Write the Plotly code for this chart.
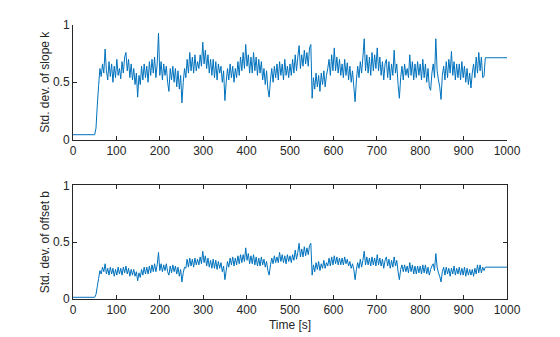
import numpy as np
import plotly.graph_objects as go

# Sample times: flat start, noisy estimate every 3 s from 50 s to 947 s, flat tail
time_noisy = list(np.arange(50, 950, 3))
time_s = [0] + time_noisy + [950, 1000]

# Std. dev. of slope k
slope_start = 0.042
slope_noisy = [
    0.042, 0.10, 0.30, 0.47, 0.62, 0.55, 0.66, 0.58, 0.79, 0.60,
    0.52, 0.68, 0.55, 0.66, 0.50, 0.64, 0.54, 0.70, 0.56, 0.62,
    0.53, 0.68, 0.58, 0.72, 0.76, 0.60, 0.70, 0.54, 0.66, 0.52,
    0.62, 0.48, 0.58, 0.37, 0.56, 0.48, 0.64, 0.52, 0.66, 0.54,
    0.64, 0.50, 0.68, 0.56, 0.70, 0.58, 0.72, 0.54, 0.66, 0.93,
    0.56, 0.68, 0.52, 0.66, 0.56, 0.64, 0.50, 0.42, 0.62, 0.52,
    0.64, 0.50, 0.62, 0.46, 0.60, 0.44, 0.56, 0.32, 0.50, 0.62,
    0.54, 0.70, 0.58, 0.76, 0.60, 0.72, 0.58, 0.74, 0.60, 0.68,
    0.62, 0.74, 0.64, 0.85, 0.66, 0.78, 0.62, 0.74, 0.58, 0.70,
    0.56, 0.70, 0.54, 0.68, 0.52, 0.66, 0.58, 0.64, 0.50, 0.60,
    0.34, 0.50, 0.62, 0.52, 0.66, 0.54, 0.64, 0.50, 0.62, 0.54,
    0.68, 0.56, 0.72, 0.60, 0.76, 0.62, 0.83, 0.64, 0.74, 0.58,
    0.72, 0.58, 0.76, 0.60, 0.72, 0.56, 0.70, 0.58, 0.68, 0.52,
    0.62, 0.48, 0.60, 0.44, 0.37, 0.52, 0.62, 0.50, 0.64, 0.54,
    0.66, 0.52, 0.68, 0.56, 0.66, 0.52, 0.70, 0.56, 0.64, 0.54,
    0.66, 0.56, 0.70, 0.58, 0.74, 0.60, 0.72, 0.82, 0.62, 0.74,
    0.64, 0.78, 0.66, 0.76, 0.64, 0.80, 0.83, 0.36, 0.54, 0.44,
    0.58, 0.46, 0.56, 0.42, 0.58, 0.48, 0.60, 0.46, 0.56, 0.62,
    0.70, 0.56, 0.74, 0.60, 0.80, 0.60, 0.72, 0.58, 0.70, 0.56,
    0.66, 0.54, 0.70, 0.56, 0.67, 0.52, 0.64, 0.50, 0.60, 0.46,
    0.33, 0.52, 0.64, 0.54, 0.68, 0.58, 0.72, 0.88, 0.60, 0.74,
    0.58, 0.72, 0.56, 0.76, 0.60, 0.74, 0.62, 0.80, 0.60, 0.72,
    0.56, 0.68, 0.52, 0.66, 0.70, 0.54, 0.68, 0.52, 0.66, 0.56,
    0.78, 0.58, 0.66, 0.48, 0.36, 0.54, 0.64, 0.52, 0.66, 0.56,
    0.62, 0.54, 0.74, 0.56, 0.68, 0.52, 0.66, 0.54, 0.68, 0.56,
    0.66, 0.52, 0.70, 0.54, 0.66, 0.50, 0.62, 0.46, 0.43, 0.58,
    0.66, 0.54, 0.88, 0.60, 0.52, 0.46, 0.35, 0.56, 0.64, 0.52,
    0.68, 0.54, 0.70, 0.58, 0.77, 0.56, 0.68, 0.52, 0.66, 0.54,
    0.66, 0.52, 0.68, 0.54, 0.64, 0.50, 0.62, 0.48, 0.58, 0.45,
    0.58, 0.66, 0.54, 0.72, 0.58, 0.76, 0.60, 0.72, 0.54, 0.55,
]
slope_end = 0.714

# Std. dev. of offset b
offset_start = 0.015
offset_noisy = [
    0.015, 0.04, 0.11, 0.18, 0.25, 0.22, 0.28, 0.24, 0.31, 0.22,
    0.27, 0.21, 0.28, 0.22, 0.27, 0.20, 0.26, 0.21, 0.28, 0.22,
    0.27, 0.21, 0.28, 0.23, 0.29, 0.22, 0.27, 0.20, 0.26, 0.21,
    0.26, 0.20, 0.24, 0.16, 0.23, 0.19, 0.26, 0.21, 0.28, 0.22,
    0.28, 0.22, 0.29, 0.23, 0.30, 0.24, 0.31, 0.24, 0.30, 0.41,
    0.25, 0.31, 0.24, 0.30, 0.25, 0.31, 0.24, 0.21, 0.29, 0.23,
    0.30, 0.24, 0.29, 0.22, 0.28, 0.20, 0.26, 0.15, 0.23, 0.28,
    0.27, 0.35, 0.28, 0.36, 0.29, 0.35, 0.28, 0.36, 0.30, 0.35,
    0.30, 0.37, 0.31, 0.42, 0.32, 0.38, 0.29, 0.36, 0.28, 0.34,
    0.27, 0.35, 0.27, 0.34, 0.26, 0.33, 0.27, 0.32, 0.24, 0.29,
    0.17, 0.25, 0.33, 0.28, 0.36, 0.30, 0.37, 0.29, 0.36, 0.30,
    0.38, 0.31, 0.39, 0.32, 0.39, 0.33, 0.45, 0.34, 0.40, 0.31,
    0.38, 0.31, 0.39, 0.30, 0.37, 0.29, 0.36, 0.29, 0.37, 0.30,
    0.35, 0.28, 0.33, 0.25, 0.21, 0.30, 0.36, 0.31, 0.38, 0.32,
    0.37, 0.32, 0.41, 0.33, 0.39, 0.32, 0.38, 0.31, 0.39, 0.33,
    0.38, 0.32, 0.39, 0.34, 0.43, 0.35, 0.41, 0.49, 0.37, 0.44,
    0.37, 0.46, 0.38, 0.45, 0.39, 0.47, 0.49, 0.21, 0.30, 0.24,
    0.32, 0.26, 0.33, 0.25, 0.31, 0.27, 0.34, 0.27, 0.32, 0.29,
    0.36, 0.29, 0.37, 0.30, 0.38, 0.31, 0.37, 0.30, 0.36, 0.30,
    0.36, 0.30, 0.37, 0.31, 0.35, 0.29, 0.33, 0.27, 0.31, 0.26,
    0.17, 0.26, 0.32, 0.27, 0.35, 0.28, 0.34, 0.42, 0.30, 0.37,
    0.30, 0.36, 0.29, 0.37, 0.30, 0.36, 0.29, 0.39, 0.30, 0.36,
    0.29, 0.35, 0.27, 0.34, 0.37, 0.29, 0.35, 0.27, 0.34, 0.28,
    0.37, 0.29, 0.34, 0.24, 0.17, 0.26, 0.30, 0.24, 0.30, 0.24,
    0.29, 0.23, 0.32, 0.24, 0.30, 0.22, 0.29, 0.22, 0.29, 0.23,
    0.29, 0.22, 0.30, 0.23, 0.30, 0.22, 0.28, 0.21, 0.26, 0.29,
    0.31, 0.25, 0.40, 0.28, 0.23, 0.20, 0.15, 0.24, 0.28, 0.21,
    0.28, 0.22, 0.27, 0.20, 0.27, 0.22, 0.29, 0.21, 0.27, 0.22,
    0.28, 0.21, 0.27, 0.21, 0.28, 0.20, 0.27, 0.21, 0.26, 0.21,
    0.26, 0.20, 0.27, 0.22, 0.30, 0.23, 0.30, 0.23, 0.28, 0.25,
]
offset_end = 0.28

x_ticks = [0, 100, 200, 300, 400, 500, 600, 700, 800, 900, 1000]
y_ticks = [0, 0.5, 1]
y_tick_text = ["0", "0.5", "1"]

slope_k = [slope_start] + slope_noisy + [slope_end, slope_end]
offset_b = [offset_start] + offset_noisy + [offset_end, offset_end]

W, H = 560, 337
LINE = "#0072BD"
AXC = "#262626"
FONT = "Liberation Sans, Arial, Helvetica, sans-serif"
FS = 12

fig = go.Figure()
fig.add_trace(go.Scatter(x=time_s, y=slope_k, mode="lines",
                         line=dict(color=LINE, width=1, simplify=False),
                         xaxis="x", yaxis="y"))
fig.add_trace(go.Scatter(x=time_s, y=offset_b, mode="lines",
                         line=dict(color=LINE, width=1, simplify=False),
                         xaxis="x2", yaxis="y2"))

xdom = [73 / W, 507 / W]
top_dom = [1 - 139.5 / H, 1 - 25 / H]
bot_dom = [1 - 299 / H, 1 - 185.3 / H]

common_x = dict(range=[0, 1000], tickvals=x_ticks, ticks="inside", ticklen=4,
                tickcolor=AXC, tickwidth=1, showline=True, linecolor=AXC,
                linewidth=1, showgrid=False, zeroline=False, automargin=False,
                tickfont=dict(family=FONT, size=FS, color=AXC))
common_y = dict(range=[0, 1], tickvals=y_ticks, ticktext=y_tick_text,
                ticks="inside", ticklen=4, tickcolor=AXC, tickwidth=1,
                showline=True, linecolor=AXC, linewidth=1, showgrid=False,
                zeroline=False, automargin=False,
                tickfont=dict(family=FONT, size=FS, color=AXC))

fig.update_layout(
    width=W, height=H,
    margin=dict(l=0, r=0, t=0, b=0),
    paper_bgcolor="white", plot_bgcolor="white",
    showlegend=False,
    xaxis=dict(domain=xdom, anchor="y", mirror=False, **common_x),
    yaxis=dict(domain=top_dom, anchor="x", mirror=False,
               title=dict(text="Std. dev. of slope k", standoff=0,
                          font=dict(family=FONT, size=FS, color=AXC)),
               **common_y),
    xaxis2=dict(domain=xdom, anchor="y2", mirror="ticks",
                title=dict(text="Time [s]", standoff=4,
                           font=dict(family=FONT, size=FS, color=AXC)),
                **common_x),
    yaxis2=dict(domain=bot_dom, anchor="x2", mirror="ticks",
                title=dict(text="Std. dev. of offset b", standoff=0,
                           font=dict(family=FONT, size=FS, color=AXC)),
                **common_y),
)

fig.write_html("out.html")
